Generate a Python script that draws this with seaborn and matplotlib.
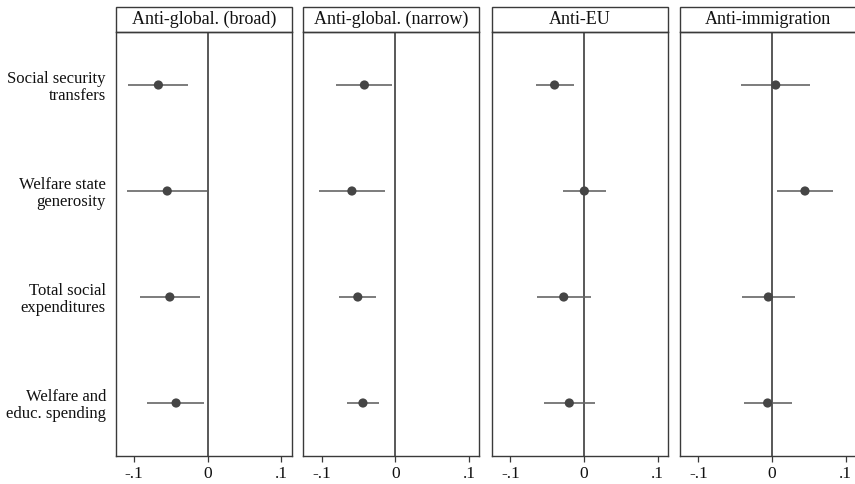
import numpy as np
import pandas as pd
import matplotlib
matplotlib.use("Agg")
import matplotlib.pyplot as plt
import seaborn as sns
from matplotlib.patches import Rectangle

sns.set_theme(style="white")
plt.rcParams['font.family'] = ['Liberation Serif', 'DejaVu Serif']

panels = ["Anti-global. (broad)", "Anti-global. (narrow)", "Anti-EU", "Anti-immigration"]
outcomes = ["Social security\ntransfers", "Welfare state\ngenerosity",
            "Total social\nexpenditures", "Welfare and\neduc. spending"]

coef = {
    "Anti-global. (broad)":  [-0.067, -0.055, -0.0515, -0.043],
    "Anti-global. (narrow)": [-0.042, -0.059, -0.051, -0.044],
    "Anti-EU":               [-0.040, 0.0004, -0.0276, -0.020],
    "Anti-immigration":      [0.005, 0.0447, -0.005, -0.006],
}
ci_low = {
    "Anti-global. (broad)":  [-0.108, -0.110, -0.092, -0.082],
    "Anti-global. (narrow)": [-0.081, -0.1035, -0.076, -0.0655],
    "Anti-EU":               [-0.0655, -0.028, -0.064, -0.055],
    "Anti-immigration":      [-0.0425, 0.0072, -0.041, -0.038],
}
ci_high = {
    "Anti-global. (broad)":  [-0.027, -0.001, -0.011, -0.005],
    "Anti-global. (narrow)": [-0.004, -0.0145, -0.026, -0.0217],
    "Anti-EU":               [-0.0136, 0.030, 0.0095, 0.0144],
    "Anti-immigration":      [0.052, 0.0827, 0.031, 0.0267],
}
xticks = [-0.1, 0, 0.1]
xticklabels = ["-.1", "0", ".1"]

rows = []
for p in panels:
    for i, o in enumerate(outcomes):
        rows.append(dict(panel=p, outcome=o, pos=i + 1, coef=coef[p][i],
                         lo=ci_low[p][i], hi=ci_high[p][i]))
df = pd.DataFrame(rows)

W, H = 855, 484
fig = plt.figure(figsize=(W / 100, H / 100), dpi=100)
lefts = [115.7, 303.3, 492.0, 680.0]
aw = 176.0
top_plot = 32.0
bot_plot = 456.0
title_h = 24.7
edge = "#3a3a3a"

for k, p in enumerate(panels):
    ax = fig.add_axes([lefts[k] / W, (H - bot_plot) / H, aw / W, (bot_plot - top_plot) / H])
    sub = df[df.panel == p]
    ax.axvline(0, color="#2b2b2b", lw=1.1, zorder=1)
    ax.hlines(sub["pos"], sub["lo"], sub["hi"], color="#666666", lw=1.2, zorder=2)
    sns.scatterplot(data=sub, x="coef", y="pos", ax=ax, color="#454545", s=44,
                    edgecolor="none", zorder=3, legend=False)
    ax.set_xlim(-0.125, 0.114)
    ax.set_ylim(4.5, 0.5)
    ax.set_xticks(xticks)
    ax.set_xticklabels(xticklabels, fontsize=12.5)
    ax.set_xlabel("")
    ax.set_ylabel("")
    ax.tick_params(axis="x", direction="out", length=4, width=0.9, color=edge,
                   pad=3, bottom=True, labelcolor="#111111")
    if k == 0:
        ax.set_yticks(range(1, 5))
        ax.set_yticklabels(outcomes, fontsize=12, linespacing=1.12)
        ax.tick_params(axis="y", length=0, pad=7, labelcolor="#111111")
    else:
        ax.set_yticks([])
    for s in ax.spines.values():
        s.set_color(edge)
        s.set_linewidth(1.0)
    hfrac = title_h / (bot_plot - top_plot)
    rect = Rectangle((0, 1), 1, hfrac, transform=ax.transAxes, clip_on=False,
                     facecolor="white", edgecolor=edge, lw=1.0)
    ax.add_patch(rect)
    ax.text(0.5, 1 + hfrac / 2, p, transform=ax.transAxes, ha="center", va="center",
            fontsize=13, color="#111111")

fig.savefig("out.png", dpi=100)
